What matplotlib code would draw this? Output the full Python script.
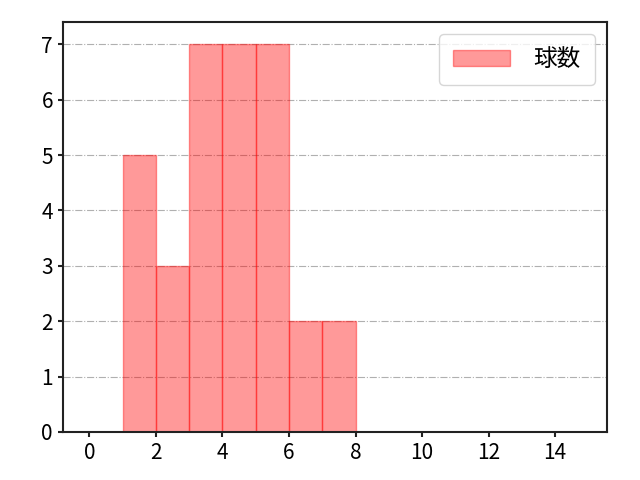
import numpy as np
import matplotlib
matplotlib.use('Agg')
import matplotlib.pyplot as plt

plt.rcParams['font.family'] = ['Noto Sans CJK JP', 'DejaVu Sans']
plt.rcParams['font.size'] = 15

# Histogram data: bin edges and counts
bin_edges = [1, 2, 3, 4, 5, 6, 7, 8]
counts = [5, 3, 7, 7, 7, 2, 2]
label = '球数'

fig = plt.figure(figsize=(6.4, 4.8), dpi=100)
ax = fig.add_axes([0.098, 0.1, 0.85, 0.854])

ax.hist(bin_edges[:-1], bins=bin_edges, weights=counts,
        color='red', alpha=0.4, edgecolor='red', linewidth=1, label=label)

ax.set_xlim(-0.8, 15.55)
ax.set_ylim(0, 7.4)
ax.set_xticks(np.arange(0, 15, 2))
ax.set_yticks(np.arange(0, 8, 1))
ax.grid(axis='y', linestyle='-.', color='#b0b0b0', linewidth=0.8)
ax.set_axisbelow(True)
for s in ax.spines.values():
    s.set_linewidth(1.5)
    s.set_color('#222222')
ax.tick_params(width=1.5, color='#222222', labelsize=15)
ax.legend(loc='upper right', fontsize=17, handlelength=2.4, borderpad=0.6,
          handletextpad=1.0, borderaxespad=0.5)

fig.savefig('out.png', dpi=100)
